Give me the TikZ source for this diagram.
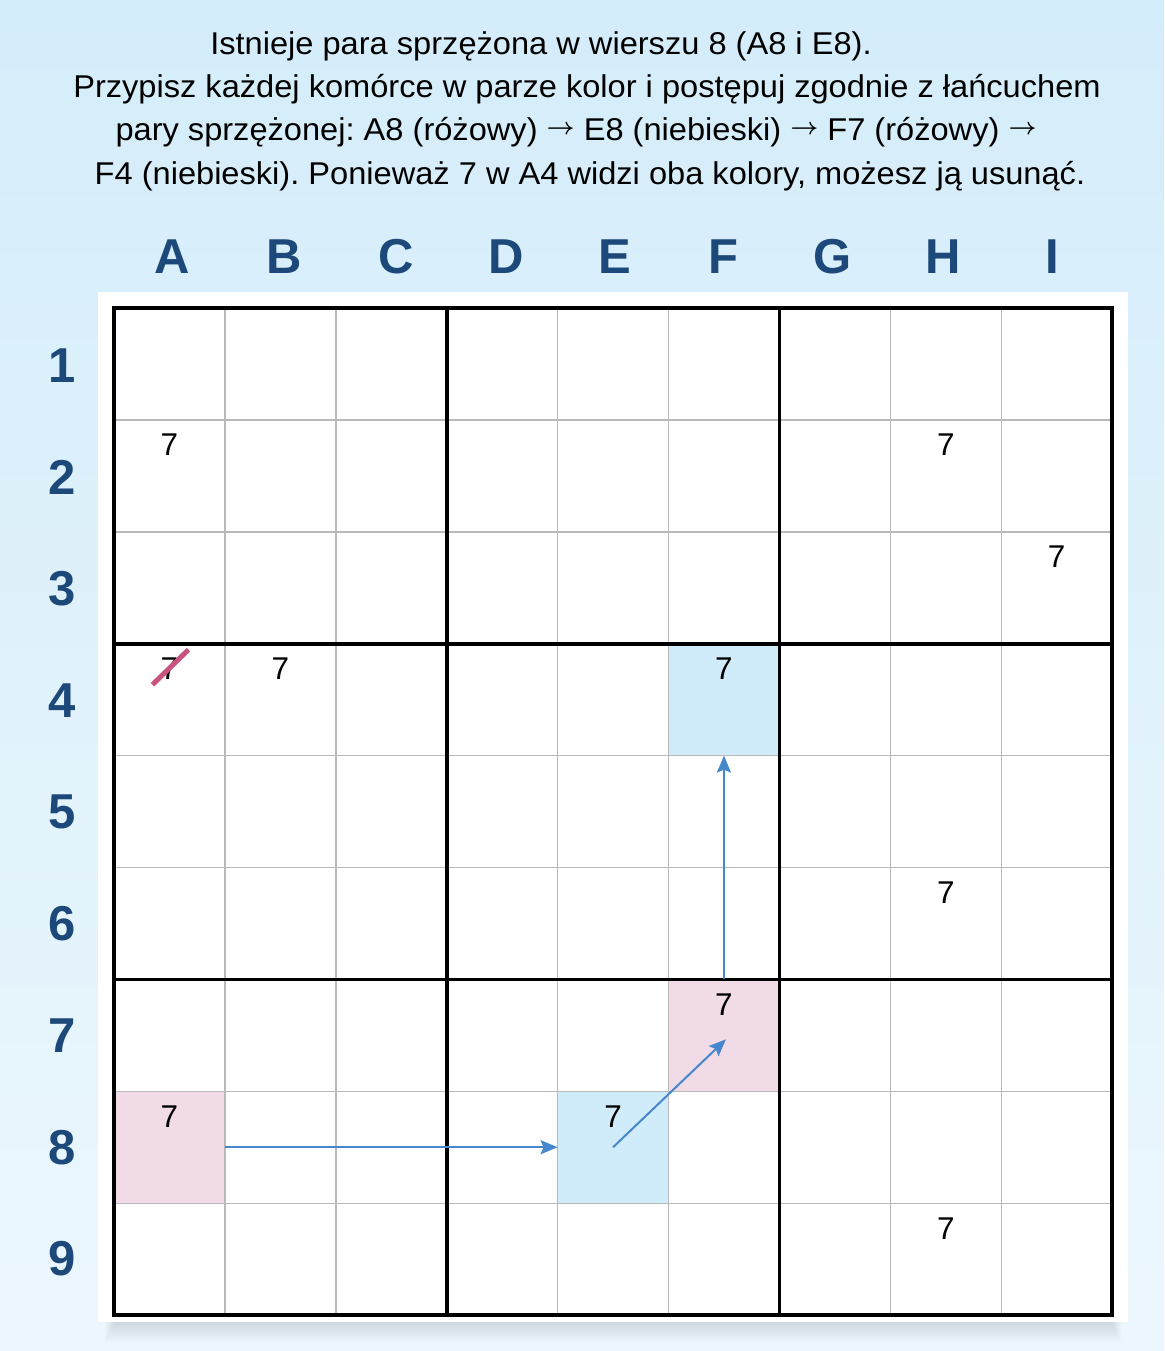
\documentclass[tikz,border=0pt]{standalone}
\usepackage{fontspec}
\setmainfont{Liberation Sans}
\usetikzlibrary{arrows.meta,calc}
\frenchspacing
\definecolor{labblue}{RGB}{28,72,122}
\definecolor{bgtop}{RGB}{212,237,250}
\definecolor{bgbot}{RGB}{236,247,253}
\definecolor{cellpink}{RGB}{240,219,231}
\definecolor{cellblue}{RGB}{208,236,250}
\definecolor{arrowblue}{RGB}{70,135,205}
\definecolor{strikepink}{RGB}{200,82,128}
\definecolor{thingray}{RGB}{185,185,185}
\def\cw{110.9}
\def\ch{111.9}
\def\gx{114}
\def\gy{308}
\newcommand{\tarr}{\raisebox{6pt}{\scalebox{2.35}{\normalsize\boldmath$\rightarrow$}}}
\newcommand{\tline}[1]{\scalebox{1.035}[1]{#1}}
\tikzset{
  cellnode/.style={minimum width=\cw pt,minimum height=\ch pt,inner sep=0pt,outer sep=0pt},
  digit/.style={inner sep=0pt,font=\fontsize{31.5}{31.5}\selectfont},
  titleline/.style={anchor=base,inner sep=0pt,font=\fontsize{31.5}{36}\selectfont},
  collab/.style={anchor=base,inner sep=0pt,text=labblue,font=\fontsize{49}{49}\selectfont\bfseries},
  thinline/.style={draw=thingray,line width=1.4pt},
  thickline/.style={draw=black,line width=3.6pt},
  chain/.style={draw=arrowblue,line width=2pt,-{Stealth[length=17pt,width=14pt,inset=3pt]}},
  strike/.style={draw=strikepink,line width=5pt}
}
\begin{document}
\begin{tikzpicture}[x=1pt,y=-1pt]
\useasboundingbox (0,0) rectangle (1164,1351);
\shade[top color=bgtop,bottom color=bgbot] (0,0) rectangle (1164,1351);
% shadow under panel
\foreach \k in {0,...,9}{
  \fill[black,opacity=0.012] ({105+\k},{1318}) rectangle ({1121-\k},{1342-2*\k});
}
% white panel
\fill[white] (98,292) rectangle (1128,1322);
% title
\node[titleline] (t1) at (541,55) {\tline{Istnieje para sprzężona w wierszu 8 (A8 i E8).}};
\node[titleline] (t2) at (587,98) {\tline{Przypisz każdej komórce w parze kolor i postępuj zgodnie z łańcuchem}};
\node[titleline] (t3) at (576,141) {\tline{pary sprzężonej: A8 (różowy) \tarr{} E8 (niebieski) \tarr{} F7 (różowy) \tarr}};
\node[titleline] (t4) at (590,185) {\tline{F4 (niebieski). Ponieważ 7 w A4 widzi oba kolory, możesz ją usunąć.}};
% column labels
\foreach \c/\x in {A/172,B/284,C/396,D/506,E/615,F/723,G/833,H/943,I/1052}{
  \node[collab] (col\c) at (\x,273) {\c};
}
% row labels
\foreach \r/\y in {1/365,2/477,3/588,4/700,5/811,6/923,7/1035,8/1147,9/1258}{
  \node[collab] (row\r) at (62,\y+17.5) {\r};
}
% cells
\foreach \c [count=\i from 0] in {A,B,C,D,E,F,G,H,I}{
  \foreach \r in {1,...,9}{
    \node[cellnode] (\c\r) at ({\gx+(\i+0.5)*\cw},{\gy+(\r-0.5)*\ch}) {};
  }
}
% colored cells
\fill[cellpink] (A8.south west) rectangle (A8.north east);
\fill[cellblue] (E8.south west) rectangle (E8.north east);
\fill[cellpink] (F7.south west) rectangle (F7.north east);
\fill[cellblue] (F4.south west) rectangle (F4.north east);
% grid
\foreach \i in {1,2,4,5,7,8}{
  \draw[thinline] ({\gx+\i*\cw},\gy) -- ({\gx+\i*\cw},{\gy+9*\ch});
  \draw[thinline] (\gx,{\gy+\i*\ch}) -- ({\gx+9*\cw},{\gy+\i*\ch});
}
\foreach \i in {3,6}{
  \draw[thickline] ({\gx+\i*\cw},\gy) -- ({\gx+\i*\cw},{\gy+9*\ch});
  \draw[thickline] (\gx,{\gy+\i*\ch}) -- ({\gx+9*\cw},{\gy+\i*\ch});
}
\draw[thickline,line width=4pt] (\gx,\gy) rectangle ({\gx+9*\cw},{\gy+9*\ch});
% digits
\foreach \cell in {A2,H2,I3,A4,B4,F4,H6,F7,A8,E8,H9}{
  \node[digit] (d\cell) at ($(\cell.north)+(0,25)$) {7};
}
% strike
\draw[strike] ($(dA4.center)+(-17,16)$) -- ($(dA4.center)+(19,-19)$);
% chain arrows
\draw[chain] (A8.east) -- (E8.west);
\draw[chain] (E8.center) -- ($(F7.center)+(2,4)$);
\draw[chain] (F7.north) -- (F4.south);
\end{tikzpicture}
\end{document}
